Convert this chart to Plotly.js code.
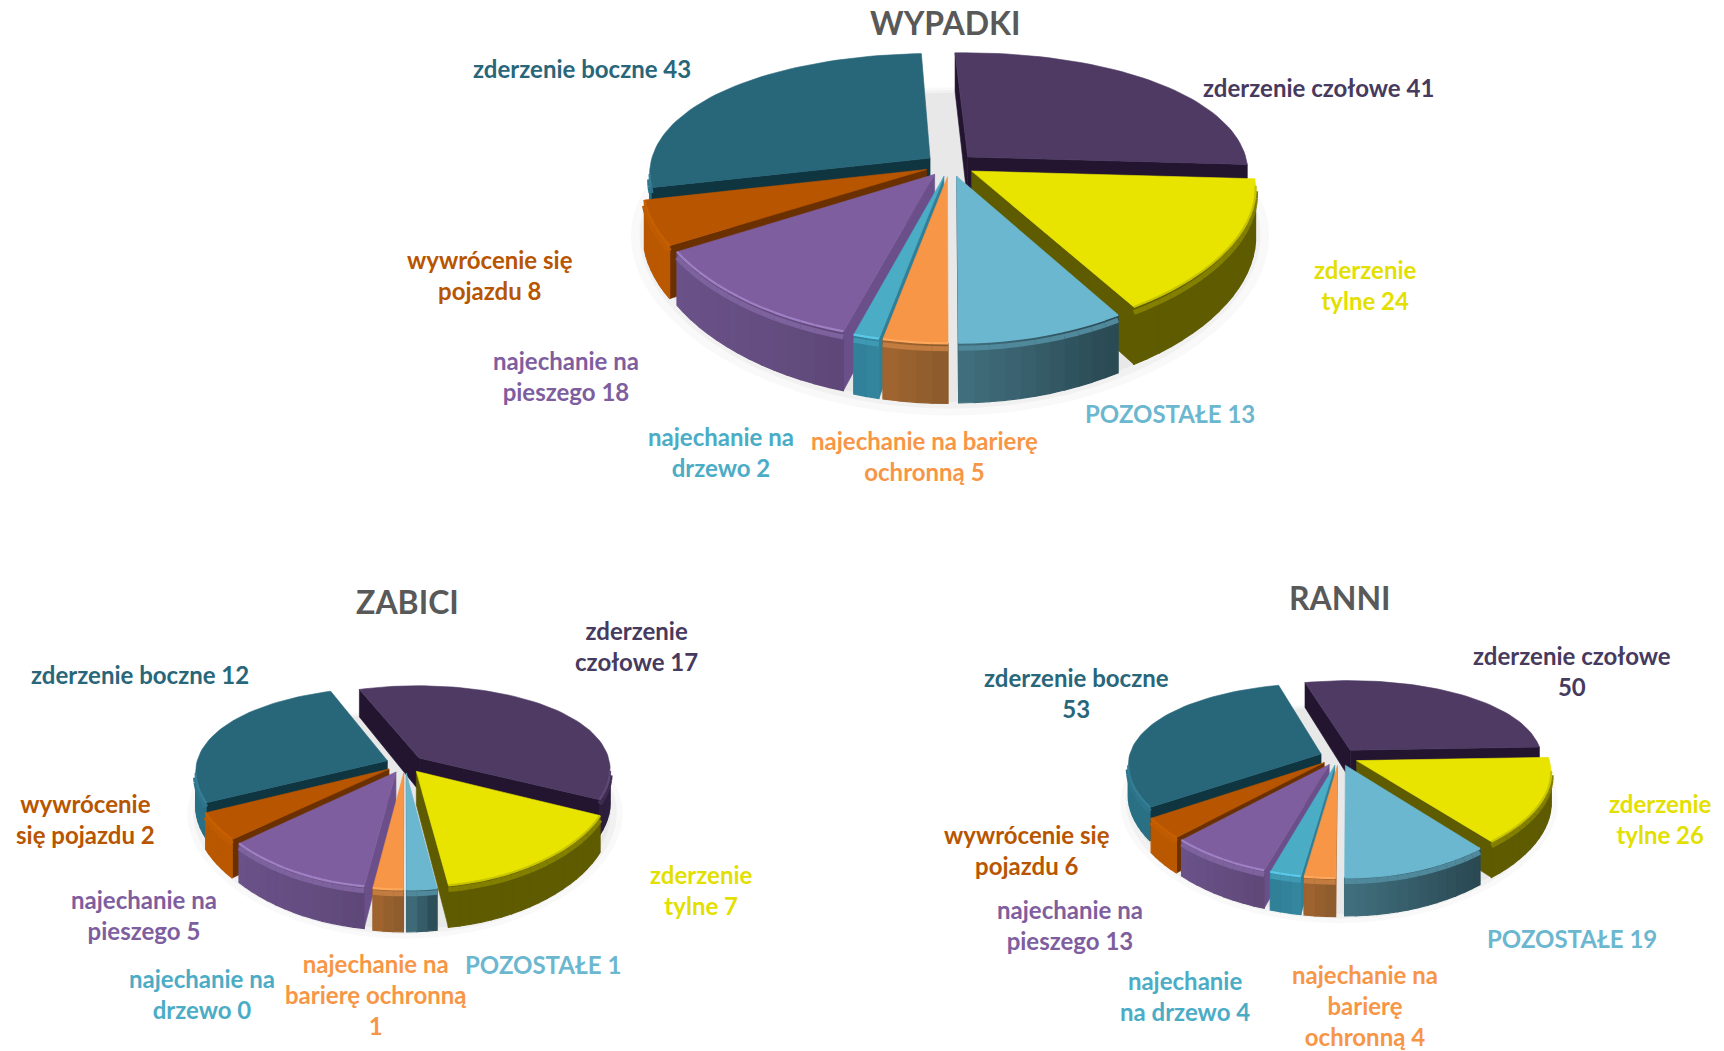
<!DOCTYPE html>
<html><head><meta charset="utf-8">
<script src="https://cdn.plot.ly/plotly-3.0.1.min.js"></script>
<style>html,body{margin:0;padding:0;background:#fff}#c{width:1724px;height:1051px}</style>
</head><body><div id="c"></div>
<script>
// ---------- data ----------
const categories = ['zderzenie czołowe','zderzenie tylne','POZOSTAŁE','najechanie na barierę ochronną','najechanie na drzewo','najechanie na pieszego','wywrócenie się pojazdu','zderzenie boczne'];
const wypadki = [41,24,13,5,2,18,8,43];
const zabici  = [17,7,1,1,0,5,2,12];
const ranni   = [50,26,19,4,4,13,6,53];
const wypadkiLabels = ['zderzenie czołowe 41','zderzenie<br>tylne 24','POZOSTAŁE 13','najechanie na barierę<br>ochronną 5','najechanie na<br>drzewo 2','najechanie na<br>pieszego 18','wywrócenie się<br>pojazdu 8','zderzenie boczne 43'];
const zabiciLabels  = ['zderzenie<br>czołowe 17','zderzenie<br>tylne 7','POZOSTAŁE 1','najechanie na<br>barierę ochronną<br>1','najechanie na<br>drzewo 0','najechanie na<br>pieszego 5','wywrócenie<br>się pojazdu 2','zderzenie boczne 12'];
const ranniLabels   = ['zderzenie czołowe<br>50','zderzenie<br>tylne 26','POZOSTAŁE 19','najechanie na<br>barierę<br>ochronną 4','najechanie<br>na drzewo 4','najechanie na<br>pieszego 13','wywrócenie się<br>pojazdu 6','zderzenie boczne<br>53'];
// ---------- styles ----------
const topColors  = ['#4E3A63','#E8E400','#6BB7CF','#F79646','#4BACC6','#7E5E9E','#B85500','#28667A'];
const textColors = ['#463A5E','#E3DF00','#6BB7CF','#F79646','#4BACC6','#7E5E9E','#B85500','#28667A'];
const radialColors=['#231530','#5E5B00','#35606F','#A86530','#2F7F97','#6B4F8A','#6B3000','#0F3540'];
const wallLeft   = ['#2C1E3C','#5E5B00','#42707F','#A2652F','#2F7F97','#6A5289','#BA5800','#2A7085'];
const wallRight  = ['#2C1E3C','#5E5B00','#294852','#8A5A2C','#35869F','#5F4878','#BA5800','#2A7085'];
const rimColors  = ['#5E4A75','#C8C400','#6BB7CF','#FFA85C','#5CC8E8','#A080C4','#C86000','#357F96'];
const pies = [
 {values:wypadki,labels:wypadkiLabels,title:'WYPADKI',tx:945,ty:22,cx:950,cy:165,rx:280,ry:128,k:0.2,kx:0.12,h:47,e:0.09,start:-2.5,
  lx:[1318,1365,1170,924,721,566,490,582], ly:[87,285,413,456,452,376,275,68]},
 {values:zabici,labels:zabiciLabels,title:'ZABICI',tx:407,ty:601,cx:405,cy:764,rx:191,ry:89,k:0.2,kx:0.12,h:33,e:0.1,start:-20,
  lx:[636,701,543,376,202,144,85,140], ly:[646,890,964,994,994,915,819,674]},
 {values:ranni,labels:ranniLabels,title:'RANNI',tx:1340,ty:597,cx:1339,cy:757,rx:192,ry:86,k:0.2,kx:0.12,h:30,e:0.1,start:-15,
  lx:[1572,1660,1572,1365,1185,1070,1027,1076], ly:[671,819,938,1005,996,925,850,693]}
];
// ---------- helpers ----------
const rad = d => d*Math.PI/180;
function hex(c){return [1,3,5].map(i=>parseInt(c.substr(i,2),16));}
function mix(a,b,t){const A=hex(a),B=hex(b);return 'rgb('+A.map((v,i)=>Math.round(v+(B[i]-v)*t)).join(',')+')';}
function area(q){let s=0;for(let i=0;i<q.length;i++){const a=q[i],b=q[(i+1)%q.length];s+=a[0]*b[1]-b[0]*a[1];}return s/2;}
function poly(pts,color,name,txt,op,lw){
  const t={type:'scatter',mode:'lines',x:pts.map(p=>p[0]).concat(pts[0][0]),y:pts.map(p=>p[1]).concat(pts[0][1]),
    fill:'toself',fillcolor:color,line:{color:color,width:lw===undefined?0.6:lw},showlegend:false,hoverinfo:'skip',opacity:op===undefined?1:op};
  if(name){t.name=name;t.text=txt;t.hoverinfo='text';t.hoveron='fills';}
  return t;
}
const traces=[], annotations=[];
pies.forEach(p=>{
  const proj=(gx,gy,z)=>{const s=1/(1+p.k*gy),sx=1/(1+p.kx*gy);return [p.cx+gx*p.rx*sx,p.cy-gy*p.ry*s+z*p.h*s];};
  // soft shadow on the ground
  [[1.13,0.025],[1.1,0.03],[1.07,0.035]].forEach(([r,o])=>{
    const pts=[];for(let a=0;a<360;a+=5)pts.push(proj(r*Math.sin(rad(a)),r*Math.cos(rad(a)),1.05));
    const t=poly(pts,'#000000',null,null,o);t.line.width=0;traces.push(t);
  });
  const total=p.values.reduce((a,b)=>a+b,0);
  let cum=0;
  const slices=p.values.map((v,i)=>{
    const a1=p.start+cum/total*360; cum+=v; const a2=p.start+cum/total*360; const m=(a1+a2)/2;
    return {v,i,a1,a2,m};
  }).filter(s=>s.v>0).sort((a,b)=>Math.cos(rad(b.m))-Math.cos(rad(a.m)));
  slices.forEach(s=>{
    const ox=p.e*Math.sin(rad(s.m)), oy=p.e*Math.cos(rad(s.m));
    const pt=(r,a,z)=>proj(ox+r*Math.sin(rad(a)),oy+r*Math.cos(rad(a)),z);
    const i=s.i;
    // radial walls, culled when facing away
    [[s.a1,-1],[s.a2,1]].forEach(([a,sign])=>{
      const q=[pt(0,a,0),pt(1,a,0),pt(1,a,1),pt(0,a,1)];
      if(area(q)*sign>0) traces.push(poly(q,radialColors[i]));
    });
    // outer wall, split into short quads for the shading
    const n=Math.max(1,Math.ceil((s.a2-s.a1)/3));
    const xa=pt(1,s.a1,0)[0], xb=pt(1,s.a2,0)[0];
    const xmin=Math.min(xa,xb), xmax=Math.max(xa,xb);
    const rimX=[],rimY=[],bandX=[],bandY=[];
    for(let j=0;j<n;j++){
      const a=s.a1+(s.a2-s.a1)*j/n, b=s.a1+(s.a2-s.a1)*(j+1)/n;
      const q=[pt(1,a,0),pt(1,b,0),pt(1,b,1),pt(1,a,1)];
      if(area(q)<0){
        const t=xmax>xmin?((q[0][0]+q[1][0])/2-xmin)/(xmax-xmin):0.5;
        traces.push(poly(q,mix(wallLeft[i],wallRight[i],Math.min(1,Math.max(0,t))),null,null,1,1.2));
        rimX.push(q[0][0],q[1][0],null);rimY.push(q[0][1],q[1][1],null);
        const d=4*p.h/47+1.5;
        bandX.push(q[0][0],q[1][0],null);bandY.push(q[0][1]+d,q[1][1]+d,null);
      }
    }
    // bevel between the wall and the top
    if(bandX.length){
      traces.push({type:'scatter',mode:'lines',x:bandX,y:bandY,line:{color:mix(rimColors[i],wallLeft[i],0.65),width:5},showlegend:false,hoverinfo:'skip'});
    }
    // top face
    const top=[pt(0,s.a1,0)];
    const m=Math.max(2,Math.ceil((s.a2-s.a1)/2));
    for(let j=0;j<=m;j++)top.push(pt(1,s.a1+(s.a2-s.a1)*j/m,0));
    traces.push(poly(top,topColors[i],categories[i],categories[i]+': '+s.v));
    if(rimX.length){
      traces.push({type:'scatter',mode:'lines',x:rimX,y:rimY,line:{color:rimColors[i],width:2.2},showlegend:false,hoverinfo:'skip'});
    }
  });
  annotations.push({x:p.tx,y:p.ty,xref:'x',yref:'y',text:'<b>'+p.title+'</b>',showarrow:false,xanchor:'center',yanchor:'middle',
    font:{family:'Lato, sans-serif',size:32,color:'#595959'}});
  p.labels.forEach((t,i)=>{
    annotations.push({x:p.lx[i],y:p.ly[i],xref:'x',yref:'y',text:'<b>'+t+'</b>',showarrow:false,xanchor:'center',yanchor:'middle',align:'center',
      font:{family:'Lato, sans-serif',size:24,color:textColors[i]}});
  });
});
Plotly.newPlot('c',traces,{
  width:1724,height:1051,margin:{l:0,r:0,t:0,b:0},paper_bgcolor:'#fff',plot_bgcolor:'#fff',showlegend:false,
  xaxis:{range:[0,1724],visible:false,fixedrange:true},
  yaxis:{range:[1051,0],visible:false,fixedrange:true},
  annotations:annotations
},{displayModeBar:false});
</script></body></html>
